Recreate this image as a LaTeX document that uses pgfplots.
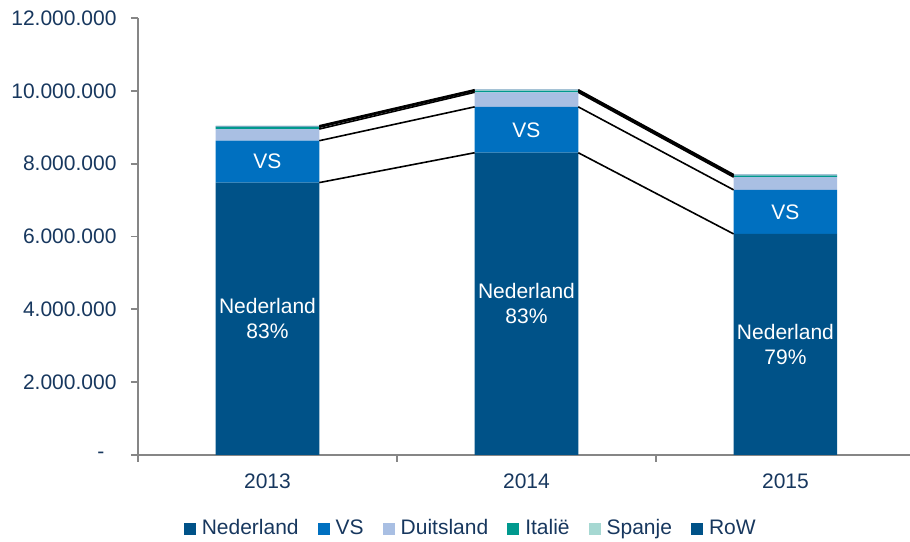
\documentclass[border=0pt]{standalone}
\usepackage{pgfplots}
\pgfplotsset{compat=1.18}
\usepackage{fontspec}
\setmainfont{Liberation Sans}
\definecolor{cNL}{RGB}{0,82,136}
\definecolor{cVS}{RGB}{0,112,192}
\definecolor{cDE}{RGB}{169,191,227}
\definecolor{cIT}{RGB}{0,153,142}
\definecolor{cES}{RGB}{166,216,210}
\definecolor{cRW}{RGB}{0,82,136}
\definecolor{cTx}{RGB}{23,55,94}
\definecolor{cAx}{RGB}{134,134,134}
\pgfplotsset{
  common/.style={
    scale only axis, width=772pt, height=437pt,
    xmin=-0.5, xmax=2.481, ymin=0, ymax=12000000,
    font=\fontsize{21}{25}\selectfont,
    scaled y ticks=false,
    /pgf/number format/assume math mode=true,
  },
  sline/.style={black, line width=1.6pt, no marks, solid},
}
\begin{document}
\begin{tikzpicture}
\begin{axis}[
  common, name=main,
  ybar stacked, bar width=0.4,
  axis x line*=bottom, axis y line*=left,
  axis line style={draw=cAx, line width=1.8pt, -},
  tick align=outside, major tick length=7pt,
  tick style={draw=cAx, line width=1.8pt},
  xtick={-0.5,0.5,1.5}, xticklabels={2013,2014,2015},
  xticklabel style={xshift=129.5pt, yshift=-8pt, text=cTx},
  ytick={0,2000000,4000000,6000000,8000000,10000000,12000000},
  yticklabels={{-\hspace*{12pt}},2.000.000,4.000.000,6.000.000,8.000.000,10.000.000,12.000.000},
  yticklabel style={text=cTx, xshift=-11pt},
  legend image code/.code={\fill[#1,draw=none] (0pt,-7pt) rectangle (12pt,5pt);},
  legend style={at={(rel axis cs:0.431,-0.167)}, anchor=center, draw=none, fill=none,
    text=cTx, font=\fontsize{21}{25}\selectfont,
    /tikz/every even column/.append style={column sep=17pt},
    /tikz/every odd column/.append style={column sep=4pt}},
  legend columns=6,
]
\addplot[fill=cNL, draw=none] coordinates {(0,7480000) (1,8300000) (2,6070000)};
\addplot[fill=cVS, draw=none] coordinates {(0,1150000) (1,1260000) (2,1210000)};
\addplot[fill=cDE, draw=none] coordinates {(0,320000) (1,400000) (2,350000)};
\addplot[fill=cIT, draw=none] coordinates {(0,50000) (1,40000) (2,40000)};
\addplot[fill=cES, draw=none] coordinates {(0,15000) (1,15000) (2,10000)};
\addplot[fill=cRW, draw=none] coordinates {(0,25000) (1,15000) (2,20000)};
\legend{Nederland,VS,Duitsland,Italië,Spanje,RoW}
\end{axis}
\begin{axis}[common, hide x axis, hide y axis, unbounded coords=jump]
\addplot[sline] coordinates {(0.2,7480000) (0.8,8300000) (1,nan) (1.2,8300000) (1.8,6070000)};
\addplot[sline] coordinates {(0.2,8630000) (0.8,9560000) (1,nan) (1.2,9560000) (1.8,7280000)};
\addplot[sline] coordinates {(0.2,8950000) (0.8,9960000) (1,nan) (1.2,9960000) (1.8,7630000)};
\addplot[sline] coordinates {(0.2,9000000) (0.8,10000000) (1,nan) (1.2,10000000) (1.8,7670000)};
\addplot[sline] coordinates {(0.2,9015000) (0.8,10015000) (1,nan) (1.2,10015000) (1.8,7680000)};
\addplot[sline] coordinates {(0.2,9040000) (0.8,10030000) (1,nan) (1.2,10030000) (1.8,7700000)};
\node[text=white, align=center] at (axis cs:0,3740000) {Nederland\\83\%};
\node[text=white, align=center] at (axis cs:1,4150000) {Nederland\\83\%};
\node[text=white, align=center] at (axis cs:2,3035000) {Nederland\\79\%};
\node[text=white] at (axis cs:0,8055000) {VS};
\node[text=white] at (axis cs:1,8930000) {VS};
\node[text=white] at (axis cs:2,6675000) {VS};
\end{axis}
\pgfresetboundingbox
\path[use as bounding box] ([xshift=-138pt,yshift=-87pt]main.south west) rectangle ([yshift=18pt]main.north east);
\end{tikzpicture}
\end{document}
